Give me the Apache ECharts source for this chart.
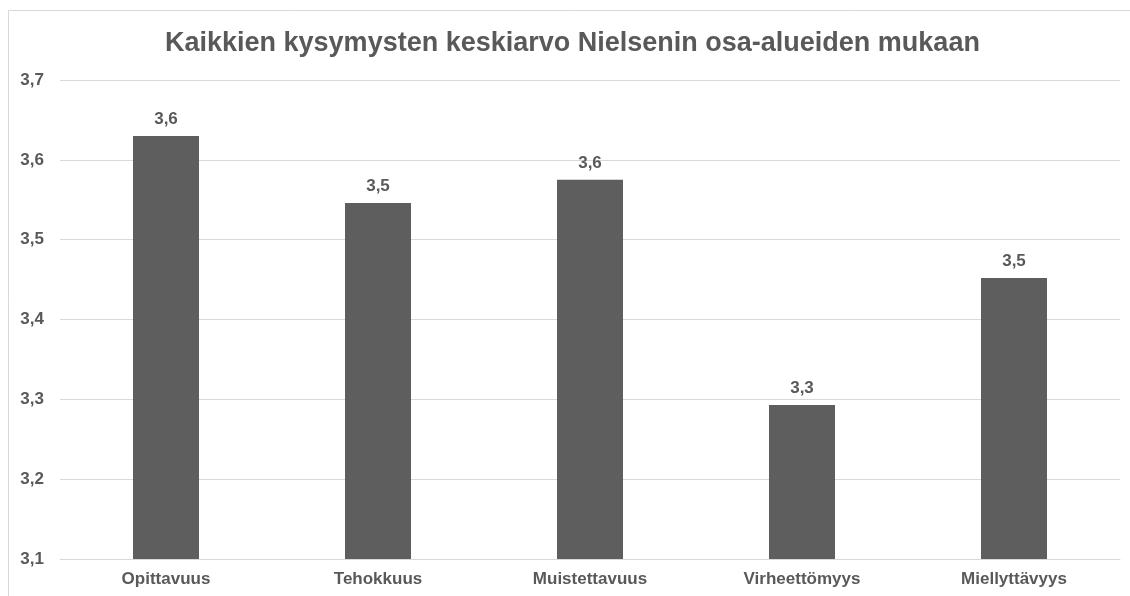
<!DOCTYPE html>
<html>
<head>
<meta charset="utf-8">
<script src="https://cdn.jsdelivr.net/npm/echarts@6/dist/echarts.min.js"></script>
<style>
html, body { margin: 0; padding: 0; background: #fff; }
#myChart { width: 1130px; height: 596px; }
</style>
</head>
<body>
<div id="myChart"></div>
<script>
// data
let categories = ['Opittavuus', 'Tehokkuus', 'Muistettavuus', 'Virheettömyys', 'Miellyttävyys']
let averages = [3.63, 3.546, 3.575, 3.293, 3.452]

let textColor = '#595959'
let font = 'Liberation Sans, Arial, sans-serif'

let myChart = echarts.init(document.getElementById('myChart'))
let option = {
    animation: false,
    title: {
        text: 'Kaikkien kysymysten keskiarvo Nielsenin osa-alueiden mukaan',
        left: 160,
        top: 25,
        textStyle: {
            color: textColor,
            fontSize: 27,
            fontWeight: 'bold',
            fontFamily: font
        }
    },
    graphic: [
        // chart border (left + top)
        { type: 'line', shape: { x1: 8.5, y1: 10.5, x2: 1130, y2: 10.5 }, style: { stroke: '#d9d9d9', lineWidth: 1 } },
        { type: 'line', shape: { x1: 8.5, y1: 10.5, x2: 8.5, y2: 596 }, style: { stroke: '#d9d9d9', lineWidth: 1 } }
    ],
    grid: {
        left: 60,
        right: 10,
        top: 80,
        bottom: 37
    },
    xAxis: {
        type: 'category',
        data: categories,
        axisTick: { show: false },
        axisLine: { lineStyle: { color: '#d9d9d9' } },
        axisLabel: {
            color: textColor,
            fontSize: 17,
            fontWeight: 'bold',
            fontFamily: font,
            margin: 12
        }
    },
    yAxis: {
        type: 'value',
        min: 3.1,
        max: 3.7,
        interval: 0.1,
        axisLine: { show: false },
        axisTick: { show: false },
        splitLine: { lineStyle: { color: '#d9d9d9' } },
        axisLabel: {
            color: textColor,
            fontSize: 17,
            fontWeight: 'bold',
            fontFamily: font,
            margin: 16,
            formatter: v => v.toFixed(1).replace('.', ',')
        }
    },
    series: [
        {
            type: 'bar',
            data: averages,
            barWidth: 66,
            itemStyle: { color: '#5e5e5e' },
            label: {
                show: true,
                position: 'top',
                distance: 8,
                color: textColor,
                fontSize: 17,
                fontWeight: 'bold',
                fontFamily: font,
                formatter: p => p.value.toFixed(1).replace('.', ',')
            }
        }
    ]
}
myChart.setOption(option)

window.addEventListener('resize', () => {
    myChart.resize()
})
</script>
</body>
</html>
